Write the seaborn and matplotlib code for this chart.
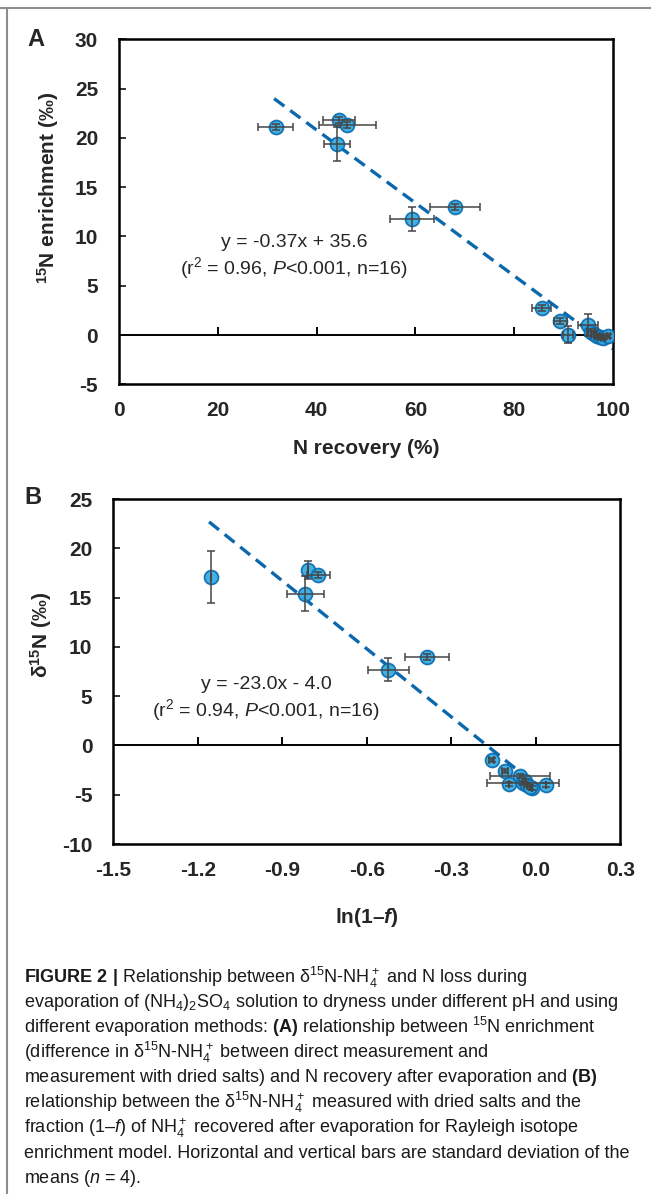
import matplotlib
matplotlib.use('Agg')
import matplotlib.pyplot as plt
import seaborn as sns
import numpy as np
import pandas as pd
from matplotlib import font_manager
from matplotlib.lines import Line2D

# ---------------- data ----------------
# Panel A: 15N enrichment vs N recovery
a_recovery = [31.7, 44.5, 46.2, 44.1, 59.3, 68.0, 85.6, 89.3, 90.9, 94.9, 95.6, 96.2, 96.8, 97.4, 98.0, 99.0]
a_enrich = [21.1, 21.8, 21.3, 19.4, 11.8, 13.0, 2.7, 1.4, 0.05, 1.0, 0.3, 0.1, -0.1, -0.2, -0.3, -0.1]
a_xerr = [3.6, 3.2, 5.8, 2.7, 4.5, 5.0, 1.9, 1.3, 1.0, 2.0, 0.8, 0.6, 0.5, 0.5, 0.4, 0.3]
a_yerr = [0.3, 0.3, 0.3, 1.7, 1.2, 0.3, 0.3, 0.3, 0.9, 1.1, 0.3, 0.3, 0.2, 0.2, 0.2, 0.2]
a_slope, a_intercept = -0.37, 35.6
a_fit_x = [31.4, 100.0]

# Panel B: d15N vs ln(1-f)
b_lnf = [-1.152, -0.809, -0.772, -0.818, -0.523, -0.386, -0.157, -0.110, -0.095, -0.055, -0.046, -0.038, -0.030, -0.012, -0.020, 0.036]
b_d15n = [17.1, 17.8, 17.3, 15.4, 7.7, 9.0, -1.45, -2.6, -3.95, -3.1, -3.8, -3.6, -4.0, -4.3, -4.2, -4.0]
b_xerr = [0.0, 0.0, 0.04, 0.065, 0.072, 0.078, 0.008, 0.01, 0.0, 0.107, 0.127, 0.0, 0.0, 0.0, 0.0, 0.0]
b_yerr = [2.6, 0.9, 0.3, 1.75, 1.2, 0.3, 0.2, 0.2, 0.2, 0.2, 0.2, 0.2, 0.2, 0.2, 0.2, 0.2]
b_slope, b_intercept = -23.0, -4.0
b_fit_x = [-1.16, -0.045]

a_xticks = [0, 20, 40, 60, 80, 100]
a_yticks = [-5, 0, 5, 10, 15, 20, 25, 30]
b_xticks = [-1.5, -1.2, -0.9, -0.6, -0.3, 0.0, 0.3]
b_yticks = [-10, -5, 0, 5, 10, 15, 20, 25]

caption_lines = [
    r"$\mathbf{FIGURE\ 2\ |}$ Relationship between δ$^{15}$N-NH$_4^+$ and N loss during",
    r"evaporation of (NH$_4$)$_2$SO$_4$ solution to dryness under different pH and using",
    r"different evaporation methods: $\mathbf{(A)}$ relationship between $^{15}$N enrichment",
    r"(difference in δ$^{15}$N-NH$_4^+$ between direct measurement and",
    r"measurement with dried salts) and N recovery after evaporation and $\mathbf{(B)}$",
    r"relationship between the δ$^{15}$N-NH$_4^+$ measured with dried salts and the",
    r"fraction (1–$\mathit{f}$) of NH$_4^+$ recovered after evaporation for Rayleigh isotope",
    r"enrichment model. Horizontal and vertical bars are standard deviation of the",
    r"means ($\mathit{n}$ = 4).",
]

# ---------------- style ----------------
sns.set_theme(style='white')
names = {f.name for f in font_manager.fontManager.ttflist}
fam = 'Liberation Sans Narrow' if 'Liberation Sans Narrow' in names else 'Liberation Sans'
plt.rcParams['font.family'] = [fam, 'DejaVu Sans']
plt.rcParams['mathtext.fontset'] = 'custom'
plt.rcParams['mathtext.rm'] = fam
plt.rcParams['mathtext.it'] = f'{fam}:italic'
plt.rcParams['mathtext.bf'] = f'{fam}:bold'
plt.rcParams['mathtext.bfit'] = f'{fam}:italic:bold'
plt.rcParams['axes.unicode_minus'] = False

FILL = '#33a9df'
EDGE = '#0b6cb0'
LINEC = '#0b68ad'
ERRC = '#454545'

W, H = 651, 1194
fig = plt.figure(figsize=(W / 100, H / 100), dpi=100)


def box(l, r, t, b):
    return [l / W, 1 - b / H, (r - l) / W, (b - t) / H]


def panel(ax, x, y, xerr, yerr, fit_x, slope, intercept, xlim, ylim, xticks, yticks, xfmt):
    df = pd.DataFrame({'x': x, 'y': y})
    fx = np.array(fit_x)
    fit = pd.DataFrame({'x': fx, 'y': slope * fx + intercept})
    sns.lineplot(data=fit, x='x', y='y', ax=ax, color=LINEC, lw=2.4, zorder=2)
    ax.lines[-1].set_dashes((3.8, 2.2))
    sns.scatterplot(data=df, x='x', y='y', ax=ax, s=100, color=FILL, edgecolor=EDGE,
                    linewidth=1.3, alpha=0.92, zorder=3, legend=False)
    ax.errorbar(x, y, xerr=xerr, yerr=yerr, fmt='none', ecolor=ERRC, elinewidth=1.1,
                capsize=2.6, capthick=1.1, zorder=4)
    ax.axhline(0, color='black', lw=1.4, zorder=1)
    inner = [t for t in xticks if xlim[0] < t < xlim[1]]
    ax.plot(inner, [0] * len(inner), ls='none', marker=2, ms=6, mew=1.4, color='black', zorder=1)
    ax.set_xlim(*xlim)
    ax.set_ylim(*ylim)
    ax.set_xticks(xticks)
    ax.set_xticklabels([xfmt(t) for t in xticks])
    ax.set_yticks(yticks)
    ax.tick_params(axis='x', length=0, pad=12, labelsize=15)
    ax.tick_params(axis='y', direction='in', length=5, width=1.3, pad=15, labelsize=15, left=True)
    for lab in ax.get_xticklabels() + ax.get_yticklabels():
        lab.set_fontweight('bold')
    for s in ax.spines.values():
        s.set_color('black')
        s.set_linewidth(1.8)


axA = fig.add_axes(box(119, 613, 39.3, 384.3))
panel(axA, a_recovery, a_enrich, a_xerr, a_yerr, a_fit_x, a_slope, a_intercept,
      (0, 100), (-5, 30), a_xticks, a_yticks, lambda t: f"{t:d}")
axA.set_xlabel('N recovery (%)', fontsize=15, fontweight='bold', labelpad=14)
axA.set_ylabel(r'$^{\mathbf{15}}$N enrichment (‰)', fontsize=15, fontweight='bold')
axA.yaxis.set_label_coords(-0.118, 0.57)
axA.text(35.4, 9.4, 'y = -0.37x + 35.6', fontsize=14, ha='center', va='center')
axA.text(35.4, 6.8, r'(r$^2$ = 0.96, $\mathit{P}$<0.001, n=16)', fontsize=14, ha='center', va='center')

axB = fig.add_axes(box(113.3, 620.3, 499, 844))
panel(axB, b_lnf, b_d15n, b_xerr, b_yerr, b_fit_x, b_slope, b_intercept,
      (-1.5, 0.3), (-10, 25), b_xticks, b_yticks, lambda t: f"{t:.1f}")
axB.set_xlabel(r'ln(1–$\mathbfit{f}$)', fontsize=15, fontweight='bold', labelpad=19)
axB.set_ylabel(r'δ$^{\mathbf{15}}$N (‰)', fontsize=15, fontweight='bold')
axB.yaxis.set_label_coords(-0.116, 0.606)
axB.text(-0.958, 6.2, 'y = -23.0x - 4.0', fontsize=14, ha='center', va='center')
axB.text(-0.958, 3.55, r'(r$^2$ = 0.94, $\mathit{P}$<0.001, n=16)', fontsize=14, ha='center', va='center')

fig.text(36 / W, 1 - 40 / H, 'A', fontsize=17, fontweight='bold', ha='center', va='center')
fig.text(33 / W, 1 - 497 / H, 'B', fontsize=17, fontweight='bold', ha='center', va='center')

for i, line in enumerate(caption_lines):
    fig.text(24 / W, 1 - (977 + 25.15 * i) / H, line, fontsize=13, ha='left', va='center',
             color='#1a1a1a')

# page border (top and left)
fig.add_artist(Line2D([0, 1], [1 - 8 / H, 1 - 8 / H], transform=fig.transFigure, color='#8c8c8c', lw=1.5))
fig.add_artist(Line2D([7 / W, 7 / W], [0, 1 - 8 / H], transform=fig.transFigure, color='#8c8c8c', lw=1.5))

fig.savefig('out.png', dpi=100)
